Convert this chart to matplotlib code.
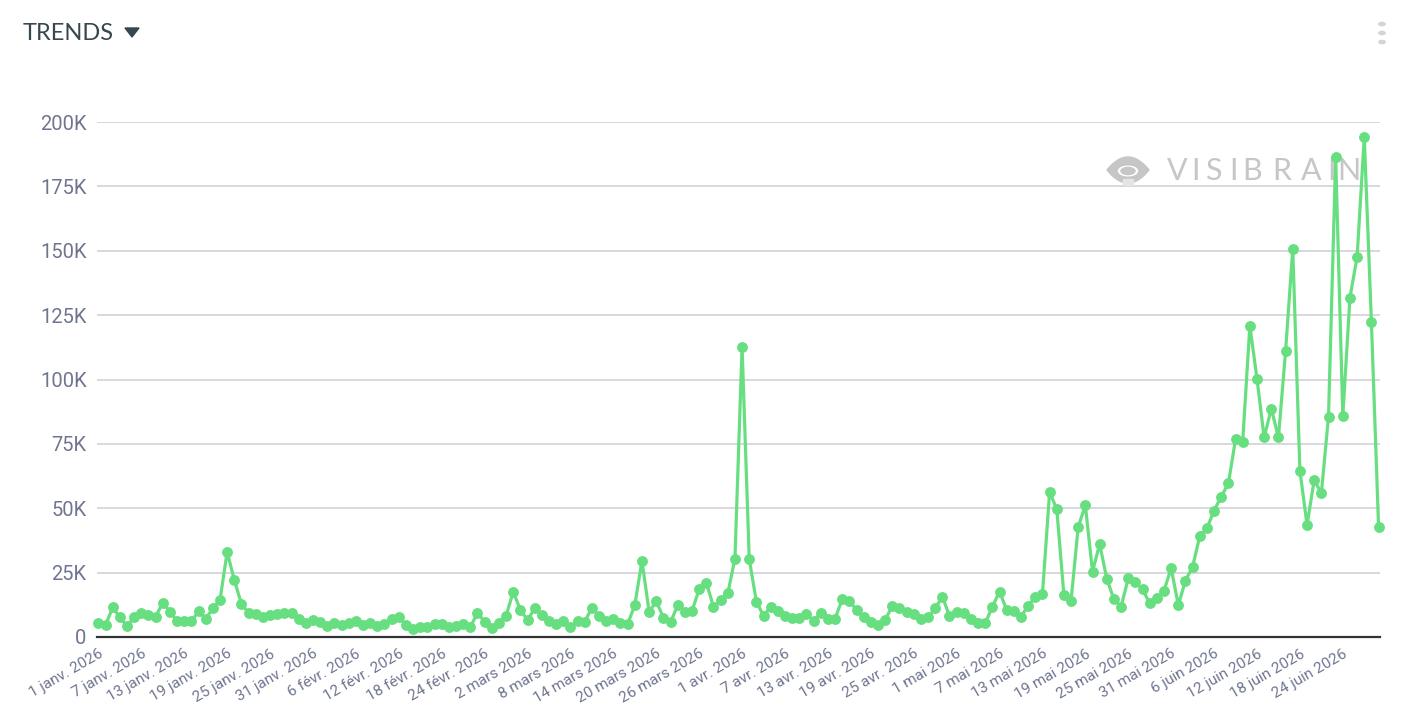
import numpy as np
import pandas as pd
import matplotlib
matplotlib.use("Agg")
from matplotlib import pyplot as plt
from matplotlib.patches import Polygon, Circle, Rectangle

# daily volumes (thousands), 1 Jan 2026 -> 29 Jun 2026
values_k = [
    5.3, 4.7, 11.5, 7.6, 4.3, 7.6, 9.2, 8.5, 7.9, 13.3,
    9.8, 6.3, 6.3, 6.1, 10.0, 7.1, 11.1, 14.4, 33.0, 22.1,
    12.8, 9.4, 8.9, 7.6, 8.4, 8.9, 9.4, 9.2, 6.9, 5.6,
    6.6, 5.8, 4.3, 5.3, 4.5, 5.3, 6.3, 4.7, 5.3, 4.3,
    5.0, 7.1, 7.6, 4.8, 3.2, 3.8, 4.0, 5.0, 5.0, 3.8,
    4.3, 5.0, 3.8, 9.4, 5.9, 3.5, 5.3, 8.2, 17.6, 10.5,
    6.6, 11.1, 8.4, 6.3, 5.0, 6.1, 4.0, 6.3, 5.9, 11.4,
    8.3, 6.3, 6.9, 5.3, 5.0, 12.4, 29.6, 9.8, 13.9, 7.5,
    5.8, 12.3, 9.8, 10.2, 18.5, 21.1, 11.8, 14.4, 17.0, 30.3,
    112.6, 30.3, 13.7, 8.3, 11.5, 10.0, 8.2, 7.4, 7.5, 8.9,
    6.2, 9.4, 6.9, 7.1, 14.6, 13.9, 10.6, 7.6, 5.9, 4.5,
    6.6, 12.0, 11.4, 9.7, 8.9, 6.9, 7.6, 11.1, 15.7, 8.2,
    9.7, 9.4, 7.1, 5.3, 5.3, 11.8, 17.6, 10.5, 10.1, 7.9,
    12.2, 15.4, 16.7, 56.2, 49.8, 16.3, 14.1, 42.8, 51.1, 25.4,
    36.1, 22.6, 14.6, 11.8, 22.8, 21.5, 18.5, 13.1, 15.0, 18.0,
    26.7, 12.4, 21.9, 27.3, 39.2, 42.2, 49.1, 54.5, 59.7, 76.8,
    75.9, 120.8, 100.3, 77.5, 88.7, 77.5, 111.1, 150.8, 64.6, 43.5,
    61.0, 55.8, 85.6, 186.3, 85.8, 131.8, 147.7, 194.1, 122.2, 42.8,
]
values = np.array(values_k) * 1000
dates = pd.date_range("2026-01-01", periods=len(values), freq="D")
mois = ["janv.", "févr.", "mars", "avr.", "mai", "juin"]

y_ticks = list(range(0, 200001, 25000))
y_labels = ["0", "25K", "50K", "75K", "100K", "125K", "150K", "175K", "200K"]

W, H = 1418, 720
green = "#67df80"
label_col = "#6f7590"

fig = plt.figure(figsize=(W / 100, H / 100), dpi=100)
ax = fig.add_axes([97 / W, 83 / H, 1283 / W, 515 / H])

x = np.arange(len(values))
ax.plot(x, values, color=green, lw=2.3, marker="o", ms=6.8,
        clip_on=False, zorder=3)

ax.set_xlim(-0.2, len(values) - 0.8)
ax.set_ylim(0, 200000)
ax.set_yticks(y_ticks)
ax.set_yticklabels(y_labels, family="Roboto")
ax.grid(axis="y", color="#cdcdd4", lw=1.1)
ax.set_axisbelow(True)
for s in ["top", "right", "left"]:
    ax.spines[s].set_visible(False)
ax.spines["bottom"].set_color("#333333")
ax.spines["bottom"].set_linewidth(1.6)
ax.spines["bottom"].set_zorder(4)

tick_idx = x[::6]
ax.set_xticks(tick_idx)
ax.set_xticklabels(
    [f"{dates[i].day} {mois[dates[i].month - 1]} {dates[i].year}" for i in tick_idx],
    rotation=30, ha="right", rotation_mode="anchor", family="Roboto")
ax.tick_params(axis="y", length=0, pad=7.5, labelsize=14.5, labelcolor=label_col)
ax.tick_params(axis="x", length=0, pad=7, labelsize=11, labelcolor=label_col)

# header
fig.text(23 / W, 1 - 33 / H, "TRENDS", fontsize=17, family="Lato",
         color="#37474f", va="center", ha="left")
tri = Polygon([[125 / W, 1 - 28 / H], [139 / W, 1 - 28 / H], [132 / W, 1 - 37 / H]],
              closed=True, transform=fig.transFigure, color="#37474f")
fig.patches.append(tri)
for py in (24, 33, 42):
    fig.patches.append(Circle((1382 / W, 1 - py / H), 3.2 / W,
                              transform=fig.transFigure, color="#d4d4d4"))

# watermark, drawn behind the series
wm = "#c6c6c6"
ft = fig.transFigure
t = np.linspace(-1, 1, 60)
cx, cy = 1128, 170
eye = np.concatenate([
    np.column_stack([cx + 21 * t, cy - 13 * (1 - t ** 2)]),
    np.column_stack([cx - 21 * t, cy + 13 * (1 - t ** 2)]),
])
ax.add_patch(Polygon([[px / W, 1 - py / H] for px, py in eye], closed=True,
                     transform=ft, color=wm, clip_on=False, zorder=1))
ax.add_patch(Circle((cx / W, 1 - (cy + 1) / H), 9.5 / W, transform=ft,
                    color="white", clip_on=False, zorder=1.1))
ax.add_patch(Circle((cx / W, 1 - (cy + 1) / H), 7 / W, transform=ft,
                    color=wm, clip_on=False, zorder=1.2))
ax.add_patch(Rectangle(((cx - 5) / W, 1 - 185 / H), 10 / W, 6 / H, transform=ft,
                       color="#e4e4e4", clip_on=False, zorder=1.2))
letters = "VISIBRAIN"
centers = [1177, 1196, 1213, 1233, 1252, 1282, 1311, 1332, 1349]
for ch, px in zip(letters, centers):
    ax.text(px / W, 1 - 171 / H, ch, fontsize=22, family="Lato",
            color=wm, ha="center", va="center", transform=ft, zorder=1)

fig.savefig("out.png", dpi=100)
